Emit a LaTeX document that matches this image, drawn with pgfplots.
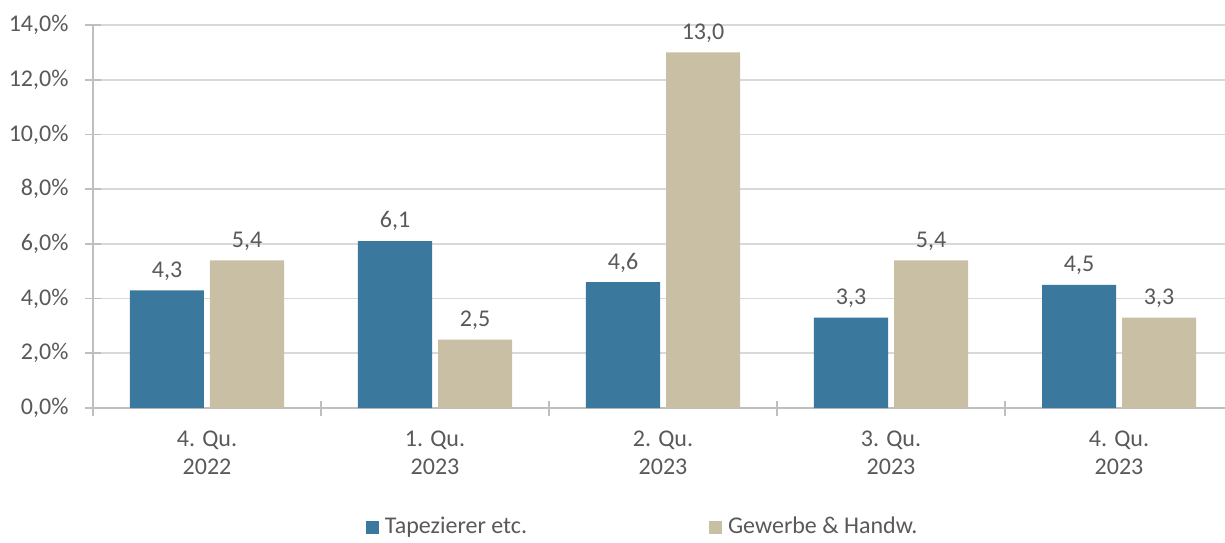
\documentclass[border=0pt]{standalone}
\usepackage{pgfplots}
\pgfplotsset{compat=1.18}
\usepackage{fontspec}
\setmainfont{Carlito}
\definecolor{tapblue}{HTML}{3A789E}
\definecolor{gewbeige}{HTML}{C9BFA5}
\definecolor{txtgray}{HTML}{595959}
\definecolor{axgray}{HTML}{BFBFBF}
\definecolor{gridgray}{HTML}{D9D9D9}
\begin{document}
\begin{tikzpicture}
\begin{axis}[
  scale only axis,
  width=566pt, height=191.5pt,
  xmin=-0.5, xmax=4.465,
  ymin=0, ymax=14,
  ybar=3pt, bar width=37pt,
  axis lines*=left,
  axis line style={draw=axgray, line width=0.8pt},
  font=\fontsize{12}{14}\selectfont,
  /pgf/number format/assume math mode=true,
  ytick={0,2,...,14},
  yticklabel={\pgfmathprintnumber[fixed,fixed zerofill,precision=1,use comma]{\tick}\%},
  yticklabel style={text=txtgray, xshift=-5pt},
  ymajorgrids,
  grid style={draw=gridgray, line width=0.8pt},
  tick align=center,
  major tick length=7.5pt,
  ytick style={draw=axgray, line width=0.8pt},
  xtick={-0.5,0.5,1.5,2.5,3.5},
  xticklabels={},
  xtick style={draw=axgray, line width=0.8pt},
  extra x ticks={0,1,2,3,4},
  extra x tick labels={{4. Qu.\\2022},{1. Qu.\\2023},{2. Qu.\\2023},{3. Qu.\\2023},{4. Qu.\\2023}},
  extra x tick style={major tick length=0pt, xticklabel style={align=center, text=txtgray, yshift=-8pt}},
  nodes near coords,
  nodes near coords style={/pgf/number format/.cd, fixed, fixed zerofill, precision=1, use comma, assume math mode=true, /tikz/.cd, text=txtgray, font=\fontsize{12}{14}\selectfont, yshift=1.5pt},
  legend columns=2,
  legend style={draw=none, fill=none, at={(0.4865,-0.311)}, anchor=center,
    font=\fontsize{12}{14}\selectfont, text=txtgray,
    /tikz/every odd column/.append style={column sep=1pt},
    /tikz/every even column/.append style={column sep=89pt}},
  legend image code/.code={\path[#1, draw=none] (0pt,-3.25pt) rectangle (6.5pt,3.25pt);},
]
\addplot[fill=tapblue, draw=none] coordinates {(0,4.3) (1,6.1) (2,4.6) (3,3.3) (4,4.5)};
\addplot[fill=gewbeige, draw=none] coordinates {(0,5.4) (1,2.5) (2,13.0) (3,5.4) (4,3.3)};
\legend{Tapezierer etc., Gewerbe \& Handw.}
\coordinate (bl) at (rel axis cs:0,0);
\coordinate (tr) at (rel axis cs:1,1);
\end{axis}
\pgfresetboundingbox
\useasboundingbox ([shift={(-46.5pt,-67pt)}]bl) rectangle ([shift={(0pt,12.5pt)}]tr);
\end{tikzpicture}
\end{document}
